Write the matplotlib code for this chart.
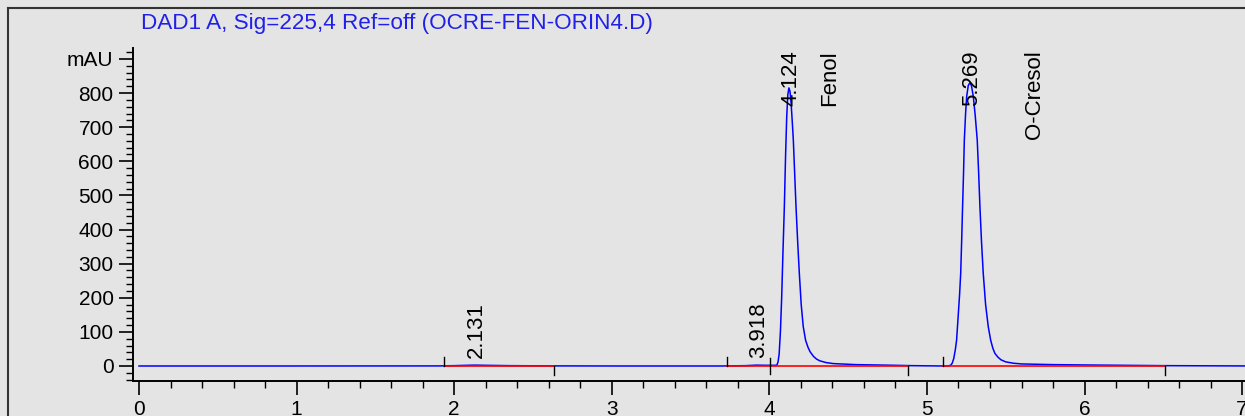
import matplotlib.pyplot as plt
from matplotlib.lines import Line2D

# chromatogram trace (min, mAU)
time = [0.0, 1.0, 1.90, 2.00, 2.08, 2.131, 2.20, 2.35, 2.60, 3.00, 3.70,
        3.85, 3.918, 3.98, 4.030,
        4.040, 4.048, 4.055, 4.062, 4.070, 4.078, 4.086, 4.095, 4.103, 4.110,
        4.117, 4.124, 4.131, 4.138, 4.146, 4.152, 4.160, 4.169, 4.180, 4.190,
        4.202, 4.215, 4.230, 4.245, 4.258, 4.280, 4.300, 4.321, 4.360, 4.406,
        4.55, 4.80, 4.90, 5.00, 5.10,
        5.130, 5.150, 5.160, 5.170, 5.180, 5.188, 5.200, 5.207, 5.214, 5.220,
        5.226, 5.232, 5.237, 5.245, 5.252, 5.262, 5.272, 5.282, 5.294, 5.306,
        5.319, 5.328, 5.336, 5.346, 5.357, 5.372, 5.389, 5.404, 5.418, 5.431,
        5.45, 5.47, 5.50, 5.55, 5.60, 5.80, 6.00, 6.50, 7.10]
signal = [0.0, 0.0, 0.2, 1.0, 2.0, 2.5, 2.0, 1.0, 0.3, 0.0, 0.0,
          1.0, 2.5, 2.0, 2.0,
          2.0, 3.0, 12, 35, 100, 200, 330, 467, 620, 730,
          795, 815, 805, 770, 710, 662, 570, 467, 360, 272,
          180, 115, 75, 55, 42, 28, 20, 15, 10, 7,
          4.0, 2.0, 1.0, 0.5, 0.0,
          0.0, 2.0, 8, 22, 48, 76, 160, 210, 272, 365,
          467, 565, 662, 740, 790, 822, 830, 822, 790, 735,
          662, 565, 467, 365, 272, 180, 115, 76, 52, 37,
          26, 18, 12, 8, 6.0, 4.0, 3.0, 1.0, 0.0]

# integration baselines
base_start = [1.935, 3.731, 5.100]
base_end = [2.633, 4.877, 6.510]
drop_lines = [4.004]

# peak annotations
peak_rt = [2.131, 3.918, 4.124, 5.269]
peak_labels = ["2.131", "3.918", "4.124", "5.269"]
compound_x = [4.385, 5.685]
compound_names = ["Fenol", "O-Cresol"]

y_ticks = [0, 100, 200, 300, 400, 500, 600, 700, 800, 900]
y_ticklabels = ["0", "100", "200", "300", "400", "500", "600", "700", "800", "mAU"]
x_ticks = [0, 1, 2, 3, 4, 5, 6, 7]

title = "DAD1 A, Sig=225,4 Ref=off (OCRE-FEN-ORIN4.D)"

plt.rcParams['font.family'] = ['Liberation Sans', 'DejaVu Sans']
bg = '#e4e4e4'

fig = plt.figure(figsize=(12.45, 4.16), dpi=100, facecolor=bg)
ax = fig.add_axes([133 / 1245, 35 / 416, 1112 / 1245, 333 / 416])
ax.set_facecolor(bg)

ax.plot(time, signal, color='#0000ff', lw=1.1, zorder=2)

for s, e in zip(base_start, base_end):
    ax.plot([s, e], [0, 0], color='#ff0000', lw=1.2, zorder=3)
    ax.plot([s, s], [0, 26], color='black', lw=1.0, zorder=4)
    ax.plot([e, e], [0, -26], color='black', lw=1.0, zorder=4)
for d in drop_lines:
    ax.plot([d, d], [-24, 24], color='black', lw=1.0, zorder=4)

lab_size = 16
for rt, lab in zip(peak_rt, peak_labels):
    if rt < 3.95:
        ax.text(rt + 0.012, 23, lab, rotation=90, ha='center', va='bottom',
                fontsize=lab_size, color='black', clip_on=False)
    else:
        ax.text(rt + 0.012, 926, lab, rotation=90, ha='center', va='top',
                fontsize=lab_size, color='black', clip_on=False)
for cx, name in zip(compound_x, compound_names):
    ax.text(cx, 926, name, rotation=90, ha='center', va='top',
            fontsize=lab_size, color='black', clip_on=False)

ax.set_xlim(-0.038, 7.018)
ax.set_ylim(-44, 932)
ax.set_yticks(y_ticks)
ax.set_yticklabels(y_ticklabels)
ax.set_yticks(range(-40, 940, 20), minor=True)
ax.set_xticks(x_ticks)
ax.set_xticks([i / 5 for i in range(0, 36)], minor=True)

for side in ['top', 'right']:
    ax.spines[side].set_visible(False)
for side in ['left', 'bottom']:
    ax.spines[side].set_linewidth(1.4)
ax.tick_params(axis='both', which='major', length=10, width=1.2,
               labelsize=15, pad=4)
ax.tick_params(axis='both', which='minor', length=5, width=1.0)

fig.text(141 / 1245, 1 - 24 / 416, title, color='#2020e8', fontsize=16.2,
         ha='left', va='center')

# outer frame of the report
fig.add_artist(Line2D([8 / 1245, 8 / 1245], [0, 1 - 8 / 416], color='#333333', lw=1.5))
fig.add_artist(Line2D([8 / 1245, 1], [1 - 8 / 416, 1 - 8 / 416], color='#333333', lw=1.5))

fig.savefig('out.png', dpi=100, facecolor=bg)
